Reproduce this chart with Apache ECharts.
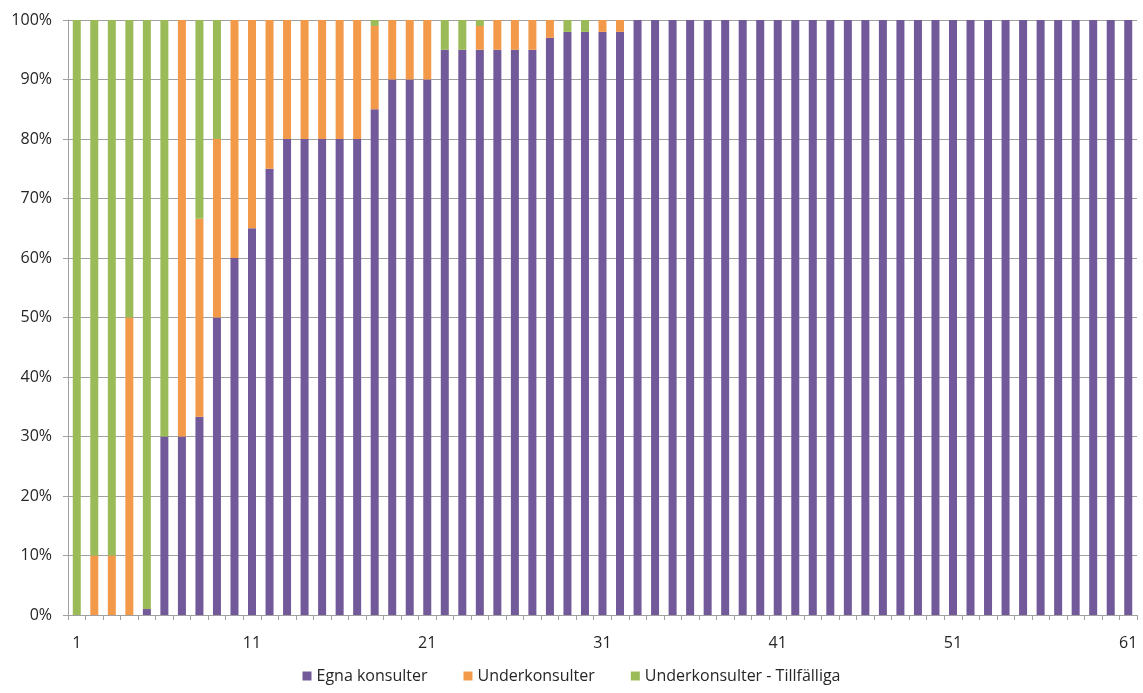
<!DOCTYPE html>
<html>
<head>
<meta charset="utf-8">
<script src="https://cdn.jsdelivr.net/npm/echarts@6/dist/echarts.min.js"></script>
<style>
  html, body { margin: 0; padding: 0; background: #fff; }
  #chart { width: 1143px; height: 693px; }
</style>
</head>
<body>
<div id="chart"></div>
<script>
// kategorier 1..61
var kategorier = [];
for (var i = 1; i <= 61; i++) kategorier.push(String(i));

// andelar i procent
var egna = [0, 0, 0, 0, 1, 30, 30, 33.3, 50, 60,
            65, 75, 80, 80, 80, 80, 80, 85, 90, 90,
            90, 95, 95, 95, 95, 95, 95, 97, 98, 98,
            98, 98, 100, 100, 100, 100, 100, 100, 100, 100,
            100, 100, 100, 100, 100, 100, 100, 100, 100, 100,
            100, 100, 100, 100, 100, 100, 100, 100, 100, 100,
            100];
var under = [0, 10, 10, 50, 0, 0, 70, 33.3, 30, 40,
             35, 25, 20, 20, 20, 20, 20, 14, 10, 10,
             10, 0, 0, 4, 5, 5, 5, 3, 0, 0,
             2, 2, 0, 0, 0, 0, 0, 0, 0, 0,
             0, 0, 0, 0, 0, 0, 0, 0, 0, 0,
             0, 0, 0, 0, 0, 0, 0, 0, 0, 0,
             0];
var tillfalliga = [100, 90, 90, 50, 99, 70, 0, 33.4, 20, 0,
                   0, 0, 0, 0, 0, 0, 0, 1, 0, 0,
                   0, 5, 5, 1, 0, 0, 0, 0, 2, 2,
                   0, 0, 0, 0, 0, 0, 0, 0, 0, 0,
                   0, 0, 0, 0, 0, 0, 0, 0, 0, 0,
                   0, 0, 0, 0, 0, 0, 0, 0, 0, 0,
                   0];
var yTicks = [0, 10, 20, 30, 40, 50, 60, 70, 80, 90, 100];

var myChart = echarts.init(document.getElementById('chart'));
var font = '"Open Sans", "Noto Sans", sans-serif';

var option = {
  animation: false,
  color: ['#71599A', '#F39A4A', '#9BBB59'],
  textStyle: { fontFamily: font },
  grid: { left: 68, right: 6, top: 20, bottom: 78 },
  legend: {
    bottom: 4,
    left: 'center',
    itemWidth: 9,
    itemHeight: 9,
    itemGap: 36,
    icon: 'rect',
    textStyle: { fontSize: 16, color: '#262626', fontFamily: font },
    data: ['Egna konsulter', 'Underkonsulter', 'Underkonsulter - Tillfälliga']
  },
  xAxis: {
    type: 'category',
    data: kategorier,
    axisLine: { lineStyle: { color: '#a0a0a0', width: 1 } },
    axisTick: { show: true, interval: 0, length: 5, lineStyle: { color: '#a0a0a0' } },
    axisLabel: { interval: 9, color: '#262626', fontSize: 16, margin: 20, fontFamily: font }
  },
  yAxis: {
    type: 'value',
    min: yTicks[0],
    max: yTicks[yTicks.length - 1],
    interval: 10,
    axisLine: { show: true, lineStyle: { color: '#a0a0a0' } },
    axisTick: { show: true, length: 5, lineStyle: { color: '#a0a0a0' } },
    axisLabel: { formatter: '{value}%', color: '#262626', fontSize: 16, margin: 16, fontFamily: font },
    splitLine: { lineStyle: { color: '#a0a0a0', width: 1 } }
  },
  series: [
    { name: 'Egna konsulter', type: 'bar', stack: 'andel', barWidth: 8, data: egna },
    { name: 'Underkonsulter', type: 'bar', stack: 'andel', barWidth: 8, data: under },
    { name: 'Underkonsulter - Tillfälliga', type: 'bar', stack: 'andel', barWidth: 8, data: tillfalliga }
  ]
};
myChart.setOption(option);
</script>
</body>
</html>
